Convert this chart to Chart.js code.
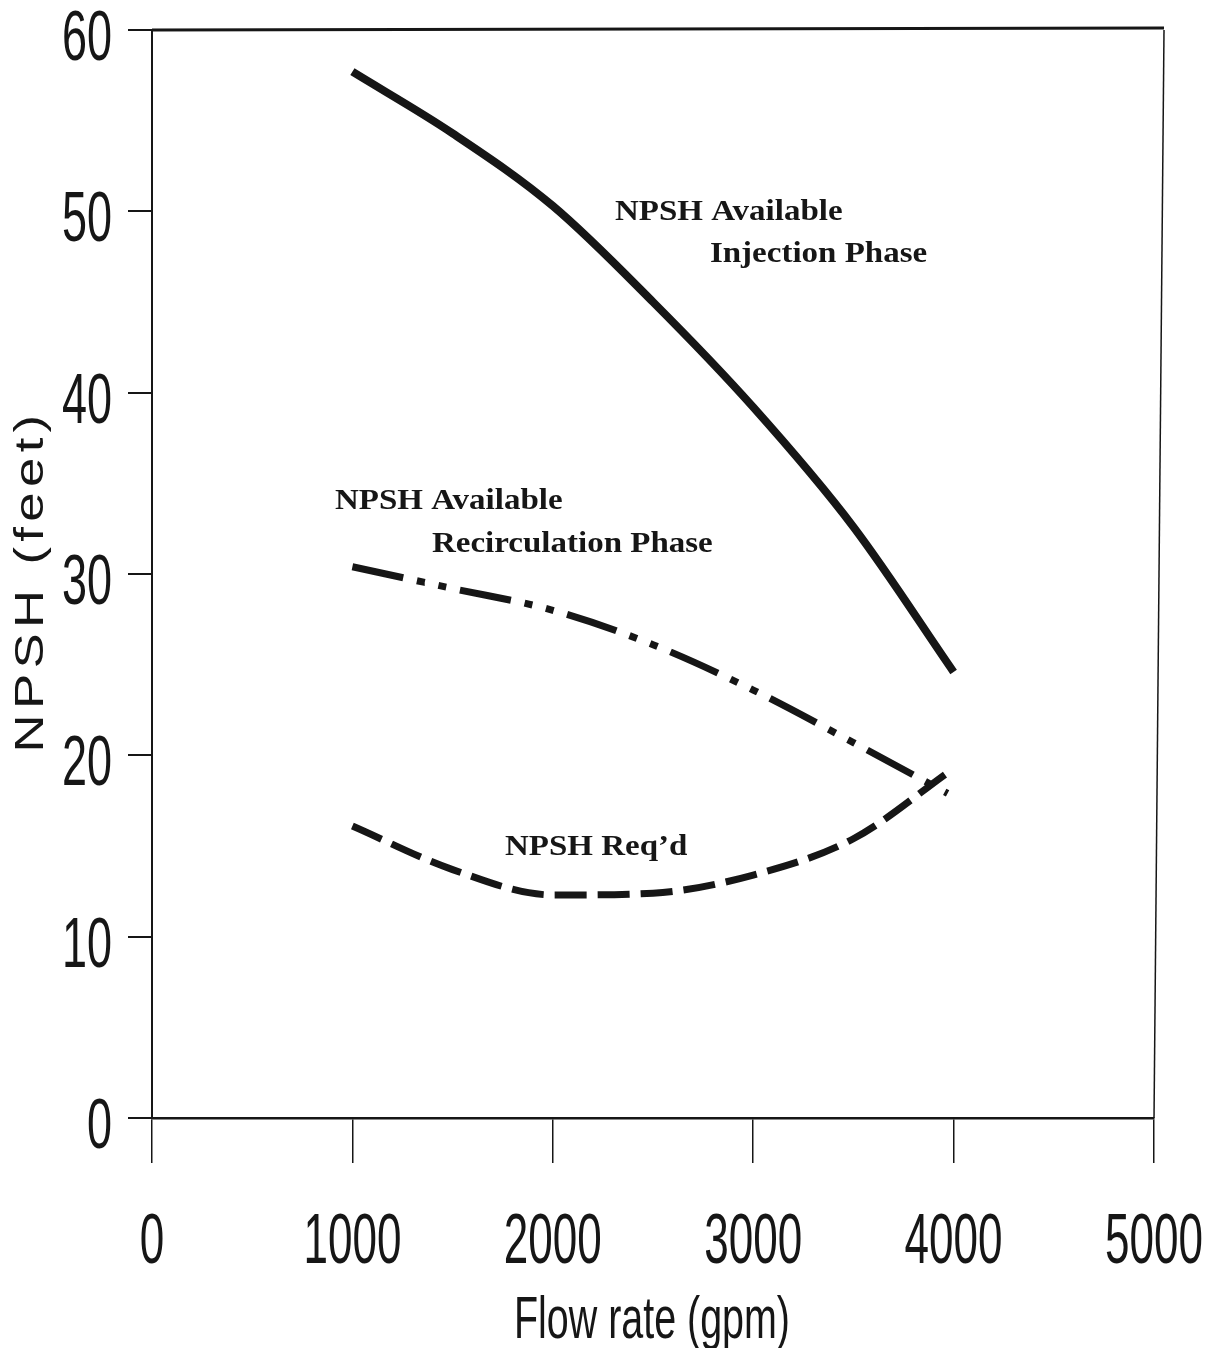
<!DOCTYPE html>
<html>
<head>
<meta charset="utf-8">
<script src="https://cdn.jsdelivr.net/npm/chart.js@4.4.1/dist/chart.umd.min.js"></script>
<style>
  html, body { margin: 0; padding: 0; background: #fff; }
  #wrap { width: 1213px; height: 1348px; }
</style>
</head>
<body>
<div id="wrap"><canvas id="npshChart" width="1213" height="1348"></canvas></div>
<script>
// tick labels
const xTicks = [0, 1000, 2000, 3000, 4000, 5000];
const yTicks = [0, 10, 20, 30, 40, 50, 60];

// NPSH available, injection phase (solid)
const injectionFlow = [1000, 1500, 2000, 2500, 3000, 3500, 4000];
const injectionNpsh = [57.7, 54.3, 50.3, 45.0, 39.2, 32.6, 24.6];

// NPSH available, recirculation phase (dash-dot-dot)
const recircFlow = [1000, 1500, 2000, 2500, 3000, 3500, 3970];
const recircNpsh = [30.4, 29.2, 28.0, 26.1, 23.6, 20.7, 17.9];

// NPSH required (dashed)
const reqdFlow = [1000, 1500, 2000, 2500, 3000, 3500, 3990];
const reqdNpsh = [16.1, 13.7, 12.3, 12.4, 13.4, 15.4, 19.2];

// curve labels, placed in data units (left edge, baseline)
const curveNotes = [
  { text: 'NPSH Available', x: 2310, y: 49.5 },
  { text: 'Injection Phase', x: 2784, y: 47.2 },
  { text: 'NPSH Available', x: 913, y: 33.6 },
  { text: 'Recirculation Phase', x: 1397, y: 31.2 },
  { text: 'NPSH Req\u2019d', x: 1761, y: 14.5 }
];

const INK = '#161616';
const narrow = '"Liberation Sans Narrow", "Liberation Sans", Arial, sans-serif';

function toPoints(xs, ys) {
  return xs.map((x, i) => ({ x: x, y: ys[i] }));
}

// draw text squeezed/stretched horizontally to a given width
function fitText(ctx, text, x, y, width, align) {
  const w = ctx.measureText(text).width;
  ctx.save();
  ctx.translate(x, y);
  ctx.scale(width / w, 1);
  ctx.textAlign = align;
  ctx.fillText(text, 0, 0);
  ctx.restore();
}

const paperPlugin = {
  id: 'paper',
  afterDraw(chart) {
    const { ctx, chartArea } = chart;
    const xs = chart.scales.x, ys = chart.scales.y;
    ctx.save();
    ctx.strokeStyle = INK;
    ctx.fillStyle = INK;

    // top frame line and right frame line
    ctx.lineWidth = 3;
    ctx.beginPath();
    ctx.moveTo(chartArea.left, chartArea.top);
    ctx.lineTo(chartArea.right + 10, chartArea.top - 2);
    ctx.stroke();
    ctx.lineWidth = 1.5;
    ctx.beginPath();
    ctx.moveTo(chartArea.right + 10, chartArea.top);
    ctx.lineTo(chartArea.right, chartArea.bottom);
    ctx.stroke();

    // tick labels
    ctx.textBaseline = 'alphabetic';
    ctx.font = '70px ' + narrow;
    xs.ticks.forEach((t, i) => {
      const label = String(t.value);
      fitText(ctx, label, xs.getPixelForTick(i), 1263, 24.5 * label.length, 'center');
    });
    ys.ticks.forEach((t, i) => {
      const label = String(t.value);
      fitText(ctx, label, 112, ys.getPixelForTick(i) + 30, 25 * label.length, 'right');
    });

    // axis titles
    ctx.font = '60px ' + narrow;
    fitText(ctx, 'Flow rate (gpm)', 652, 1338, 276, 'center');

    ctx.save();
    ctx.translate(43, 581);
    ctx.rotate(-Math.PI / 2);
    ctx.font = '40px "Liberation Sans", Arial, sans-serif';
    ctx.letterSpacing = '4px';
    fitText(ctx, 'NPSH (feet)', 0, 0, 343, 'center');
    ctx.restore();

    // curve labels
    ctx.font = 'bold 30px "Liberation Serif", "Times New Roman", serif';
    curveNotes.forEach(n => {
      const w = ctx.measureText(n.text).width * 1.1;
      fitText(ctx, n.text, xs.getPixelForValue(n.x), ys.getPixelForValue(n.y), w, 'left');
    });
    ctx.restore();
  }
};

new Chart(document.getElementById('npshChart'), {
  type: 'line',
  data: {
    datasets: [
      {
        label: 'NPSH Available Injection Phase',
        data: toPoints(injectionFlow, injectionNpsh),
        borderColor: INK,
        borderWidth: 8,
        borderCapStyle: 'butt'
      },
      {
        label: 'NPSH Available Recirculation Phase',
        data: toPoints(recircFlow, recircNpsh),
        borderColor: INK,
        borderWidth: 7,
        borderDash: [52, 14, 8, 14, 8, 14],
        borderCapStyle: 'butt'
      },
      {
        label: 'NPSH Req\u2019d',
        data: toPoints(reqdFlow, reqdNpsh),
        borderColor: INK,
        borderWidth: 7,
        borderDash: [32, 11],
        borderCapStyle: 'butt'
      }
    ]
  },
  options: {
    responsive: false,
    animation: false,
    devicePixelRatio: 1,
    layout: { padding: { top: 30, right: 59, left: 0, bottom: 0 } },
    elements: {
      point: { radius: 0 },
      line: { cubicInterpolationMode: 'monotone', fill: false }
    },
    plugins: {
      legend: { display: false },
      tooltip: { enabled: false }
    },
    scales: {
      x: {
        type: 'linear',
        min: 0,
        max: 5000,
        afterBuildTicks: s => { s.ticks = xTicks.map(v => ({ value: v })); },
        afterFit: s => { s.height = 230; },
        ticks: { display: false },
        grid: { drawOnChartArea: false, drawTicks: true, tickLength: 45, color: INK, lineWidth: 1.5 },
        border: { display: true, color: INK, width: 2.5 }
      },
      y: {
        min: 0,
        max: 60,
        afterBuildTicks: s => { s.ticks = yTicks.map(v => ({ value: v })); },
        afterFit: s => { s.width = 152; },
        ticks: { display: false },
        grid: { drawOnChartArea: false, drawTicks: true, tickLength: 24, color: INK, lineWidth: 2 },
        border: { display: true, color: INK, width: 2 }
      }
    }
  },
  plugins: [paperPlugin]
});
</script>
</body>
</html>
